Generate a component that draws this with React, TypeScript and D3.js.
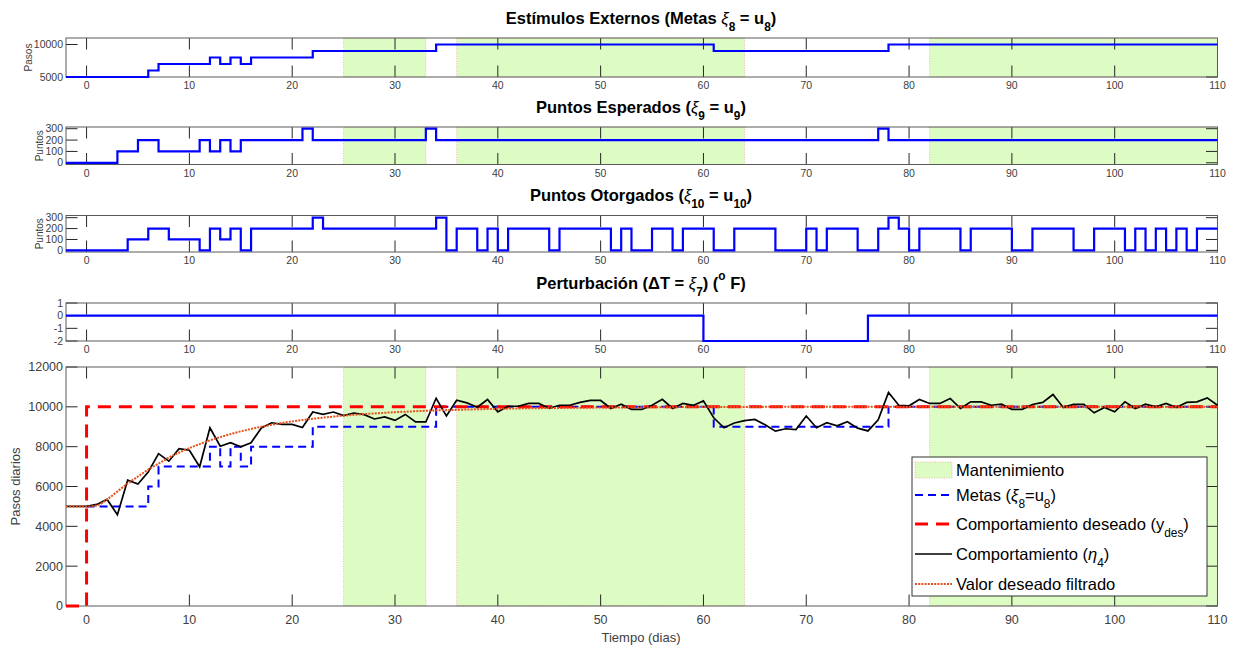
import React from "react";
import * as d3 from "d3";

// ---- data ----
const xTicks = [0, 10, 20, 30, 40, 50, 60, 70, 80, 90, 100, 110];
const maintenance = [[25, 33], [36, 64], [82, 110]];

// stairs: [day where value starts, value]
const metas = [[-2, 5000], [6, 6000], [7, 7000], [12, 8000], [13, 7000], [14, 8000], [15, 7000], [16, 8000], [22, 9000], [34, 10000], [61, 9000], [78, 10000]];
const esperados = [[-2, 0], [3, 100], [5, 200], [7, 100], [11, 200], [12, 100], [13, 200], [14, 100], [15, 200], [21, 300], [22, 200], [33, 300], [34, 200], [77, 300], [78, 200]];
const otorgados = [[-2, 0], [4, 100], [6, 200], [8, 100], [11, 0], [12, 200], [13, 100], [14, 200], [15, 0], [16, 200], [22, 300], [23, 200], [34, 300], [35, 0], [36, 200], [38, 0], [39, 200], [40, 0], [41, 200], [45, 0], [46, 200], [51, 0], [52, 200], [53, 0], [55, 200], [57, 0], [58, 200], [61, 0], [63, 200], [67, 0], [70, 200], [71, 0], [72, 200], [75, 0], [77, 200], [78, 300], [79, 200], [80, 0], [81, 200], [85, 0], [86, 200], [90, 0], [92, 200], [96, 0], [98, 200], [101, 0], [102, 200], [103, 0], [104, 200], [105, 0], [106, 200], [107, 0], [108, 200]];
const perturbacion = [[-2, 0], [60, -2], [76, 0]];
const deseado = [[-2, 0], [0, 10000]];

// daily behaviour, day -2 .. 110
const comportamiento = [5000, 5000, 5000, 5100, 5350, 4580, 6320, 6120, 6730, 7650, 7270, 7900, 7820, 6990, 8950, 8020, 8200, 7990, 8200, 8940, 9200, 9120, 9120, 8960, 9740, 9620, 9740, 9560, 9690, 9610, 9390, 9490, 9320, 9620, 9240, 9240, 10430, 9540, 10330, 10200, 9980, 10370, 9750, 10030, 10030, 10170, 10170, 9920, 10080, 10080, 10220, 10320, 10320, 9920, 10130, 9870, 9870, 10080, 10380, 9920, 10170, 10070, 10300, 9450, 8950, 9190, 9310, 9370, 9100, 8780, 8900, 8860, 9540, 8950, 9200, 9050, 9250, 8930, 8790, 9350, 10720, 10080, 10050, 10370, 10170, 10170, 10420, 9920, 10250, 10250, 10080, 10130, 9870, 9870, 10120, 10220, 10620, 9970, 10130, 10120, 9700, 9970, 9750, 10250, 9920, 10130, 10000, 10170, 9970, 10220, 10250, 10450, 10080];

const filtradoDias = [-2, 0, 1, 2, 3, 4, 5, 6, 7, 8, 9, 10, 11, 12, 13, 14, 15, 16, 18, 20, 22, 24, 26, 28, 30, 33, 36, 40, 45, 50, 55, 60, 70, 110];
const filtradoVal = [5000, 5000, 5050, 5350, 5750, 6150, 6500, 6850, 7150, 7450, 7700, 7930, 8130, 8320, 8480, 8630, 8770, 8890, 9100, 9270, 9400, 9510, 9600, 9670, 9730, 9800, 9850, 9900, 9940, 9965, 9980, 9990, 10000, 10000];

// ---- layout ----
const FONT = "'Liberation Sans', Arial, Helvetica, sans-serif";
const X0 = 66;
const X1 = 1217.5;
const TICK = 11.5;
const BLUE = "#0000ff";
const ORANGE = "#e8501a";
const SHADE = "#dcfcc4";

const x = d3.scaleLinear().domain([-2, 110]).range([X0, X1]);

const panels = [
  { top: 38, bottom: 77, domain: [5000, 11000], ticks: [5000, 10000], label: "Pasos", labelX: 28, shaded: true, titleY: 24 },
  { top: 127, bottom: 164.5, domain: [-15, 315], ticks: [0, 100, 200, 300], label: "Puntos", labelX: 39, shaded: true, titleY: 113 },
  { top: 215.5, bottom: 252, domain: [-15, 320], ticks: [0, 100, 200, 300], label: "Puntos", labelX: 39, shaded: false, titleY: 201 },
  { top: 303, bottom: 341, domain: [-2, 1], ticks: [-2, -1, 0, 1], label: "", labelX: 0, shaded: false, titleY: 289 },
  { top: 367, bottom: 606, domain: [0, 12000], ticks: [0, 2000, 4000, 6000, 8000, 10000, 12000], label: "Pasos diarios", labelX: 15, shaded: true, titleY: 0 },
];

const yScale = (p) => d3.scaleLinear().domain(p.domain).range([p.bottom, p.top]);

function stairs(steps) {
  const pts = steps.map(([d, v]) => [d, v]);
  pts.push([110, steps[steps.length - 1][1]]);
  return pts;
}

// parts: plain strings, or {sub}, {sup}, {it}
function Rich({ parts }) {
  let shift = 0;
  return (
    <>
      {parts.map((p, i) => {
        if (typeof p === "string") {
          const dy = -shift;
          shift = 0;
          return <tspan key={i} dy={dy + "em"}>{p}</tspan>;
        }
        if (p.it) {
          const dy = -shift;
          shift = 0;
          return <tspan key={i} dy={dy + "em"} fontStyle="italic" fontWeight="normal">{p.it}</tspan>;
        }
        const target = p.sub ? 0.42 : -0.55;
        const dy = (target - shift) / 0.72;
        shift = target;
        return <tspan key={i} dy={dy + "em"} fontSize="0.72em">{p.sub || p.sup}</tspan>;
      })}
    </>
  );
}

function Frame({ p, big }) {
  const y = yScale(p);
  const fs = big ? 12.5 : 10.5;
  return (
    <g>
      {xTicks.map((t) => (
        <g key={"x" + t}>
          <line x1={x(t)} x2={x(t)} y1={p.bottom} y2={p.bottom - TICK} stroke="#262626" />
          <line x1={x(t)} x2={x(t)} y1={p.top} y2={p.top + TICK} stroke="#262626" />
          <text x={x(t)} y={p.bottom + (big ? 18 : 12)} textAnchor="middle" fontSize={fs} fill="#404040">{t}</text>
        </g>
      ))}
      {p.ticks.map((t) => (
        <g key={"y" + t}>
          <line x1={X0} x2={X0 + TICK} y1={y(t)} y2={y(t)} stroke="#262626" />
          <line x1={X1} x2={X1 - TICK} y1={y(t)} y2={y(t)} stroke="#262626" />
          <text x={X0 - 3} y={y(t)} dy="0.35em" textAnchor="end" fontSize={fs} fill="#404040">{t}</text>
        </g>
      ))}
      <rect x={X0} y={p.top} width={X1 - X0} height={p.bottom - p.top} fill="none" stroke="#5a5a5a" />
      {p.label && (
        <text transform={`translate(${p.labelX},${(p.top + p.bottom) / 2}) rotate(-90)`} textAnchor="middle" dominantBaseline="central" fontSize={big ? 13 : 10} fill="#404040">{p.label}</text>
      )}
    </g>
  );
}

function Shading({ p }) {
  return (
    <g>
      {maintenance.map(([a, b]) => (
        <rect key={a} x={x(a)} y={p.top} width={x(b) - x(a)} height={p.bottom - p.top} fill={SHADE} stroke="#f08a8a" strokeWidth={0.6} strokeDasharray="1,1.5" />
      ))}
    </g>
  );
}

const titles = [
  ["Estímulos Externos (Metas ", { it: "ξ" }, { sub: "8" }, " = u", { sub: "8" }, ")"],
  ["Puntos Esperados (", { it: "ξ" }, { sub: "9" }, " = u", { sub: "9" }, ")"],
  ["Puntos Otorgados (", { it: "ξ" }, { sub: "10" }, " = u", { sub: "10" }, ")"],
  ["Perturbación (ΔT = ", { it: "ξ" }, { sub: "7" }, ") (", { sup: "o" }, " F)"],
];

const legendLabels = [
  ["Mantenimiento"],
  ["Metas (", { it: "ξ" }, { sub: "8" }, "=u", { sub: "8" }, ")"],
  ["Comportamiento deseado (y", { sub: "des" }, ")"],
  ["Comportamiento (", { it: "η" }, { sub: "4" }, ")"],
  ["Valor deseado filtrado"],
];

export default function App() {
  const stepLine = (p) => d3.line().x((d) => x(d[0])).y((d) => yScale(p)(d[1])).curve(d3.curveStepAfter);
  const main = panels[4];
  const ym = yScale(main);
  const plain = d3.line().x((d) => x(d[0])).y((d) => ym(d[1]));
  const smooth = d3.line().x((d) => x(d[0])).y((d) => ym(d[1])).curve(d3.curveMonotoneX);
  const behaviour = comportamiento.map((v, i) => [i - 2, v]);
  const filtered = filtradoDias.map((d, i) => [d, filtradoVal[i]]);
  const metasMain = metas.map(([d, v]) => [Math.max(d, 0), v]);
  const upperSeries = [metas, esperados, otorgados, perturbacion];

  const legendX = 912, legendY = 457;
  const rows = [470, 495, 524, 554, 584];
  const sx0 = 915, sx1 = 952, tx = 956;

  return (
    <svg width={1241} height={650} style={{ position: "absolute", left: 0, top: 0, background: "#fff" }} fontFamily={FONT}>
      <rect width={1241} height={650} fill="#fff" />
      <g fontWeight="bold" fontSize={16.5} textAnchor="middle" fill="#000">
        {titles.map((t, i) => (
          <text key={i} x={641} y={panels[i].titleY}><Rich parts={t} /></text>
        ))}
      </g>

      {panels.slice(0, 4).map((p, i) => (
        <g key={i}>
          {p.shaded && <Shading p={p} />}
          <Frame p={p} big={false} />
          <path d={stepLine(p)(stairs(upperSeries[i]))} fill="none" stroke={BLUE} strokeWidth={2.2} />
        </g>
      ))}

      {/* main panel */}
      <Shading p={main} />
      <Frame p={main} big={true} />
      <path d={stepLine(main)(stairs(metasMain))} fill="none" stroke={BLUE} strokeWidth={2} strokeDasharray="8,5" />
      <path d={stepLine(main)(stairs(deseado))} fill="none" stroke="#ff0000" strokeWidth={3} strokeDasharray="13,8" />
      <path d={plain(behaviour)} fill="none" stroke="#000" strokeWidth={1.7} />
      <path d={smooth(filtered)} fill="none" stroke={ORANGE} strokeWidth={2} strokeDasharray="2,1.2" />
      <text x={641} y={642} textAnchor="middle" fontSize={13} fill="#404040">Tiempo (dias)</text>

      {/* legend */}
      <g>
        <rect x={legendX} y={legendY} width={295} height={139} fill="#fff" stroke="#333" />
        <rect x={sx0} y={rows[0] - 8} width={sx1 - sx0} height={16} fill={SHADE} stroke="#f08a8a" strokeWidth={0.6} strokeDasharray="1,1.5" />
        <line x1={sx0} x2={sx1} y1={rows[1]} y2={rows[1]} stroke={BLUE} strokeWidth={2} strokeDasharray="8,5" />
        <line x1={sx0} x2={sx1} y1={rows[2]} y2={rows[2]} stroke="#ff0000" strokeWidth={3} strokeDasharray="13,8" />
        <line x1={sx0} x2={sx1} y1={rows[3]} y2={rows[3]} stroke="#000" strokeWidth={1.7} />
        <line x1={sx0} x2={sx1} y1={rows[4]} y2={rows[4]} stroke={ORANGE} strokeWidth={2} strokeDasharray="2,1.2" />
        <g fontSize={16.5} fill="#000">
          {legendLabels.map((l, i) => (
            <text key={i} x={tx} y={rows[i] + 6}><Rich parts={l} /></text>
          ))}
        </g>
      </g>
    </svg>
  );
}
